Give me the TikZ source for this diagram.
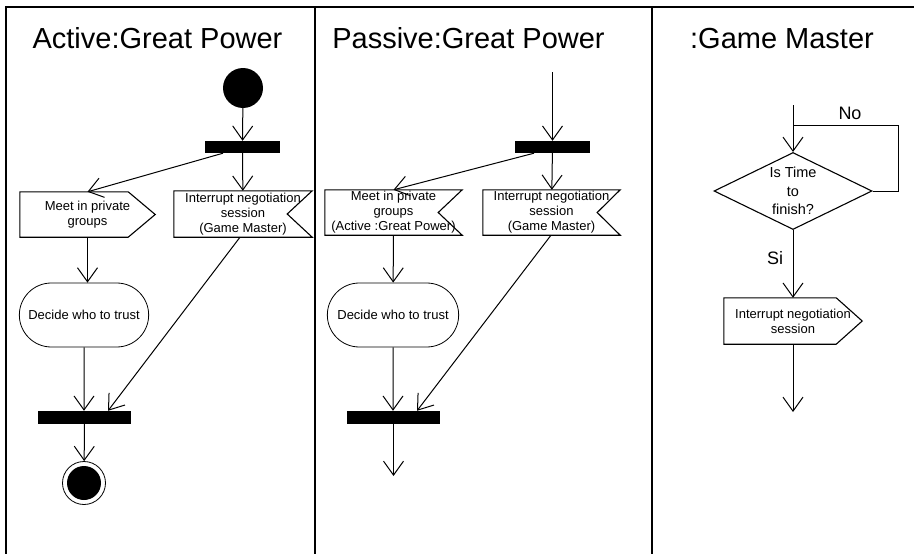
\documentclass[tikz,border=0pt]{standalone}
\usepackage{fontspec}
\setmainfont{Liberation Sans}
\usetikzlibrary{arrows.meta,shapes.geometric,shapes.misc}

\tikzset{lane/.style={line width=1.6pt},
    flow/.style={line width=1pt,-{Straight Barb[length=14pt,width=20pt]}},
    edge/.style={line width=1.1pt},
    bar/.style={fill=black,minimum width=75pt,minimum height=12pt,inner sep=0pt},
    joinbar/.style={bar,minimum width=93pt,minimum height=13pt},
    boxtext/.style={inner sep=0pt,align=center,font=\fontsize{13}{15}\selectfont},
    title/.style={anchor=base,font=\fontsize{29}{30}\selectfont},
    activity/.style={rounded rectangle,draw,line width=0.8pt,minimum width=136pt,minimum height=64pt,font=\fontsize{13}{15}\selectfont}}

\begin{document}
\begin{tikzpicture}[x=1pt,y=-1pt]
        \useasboundingbox (0,0) rectangle (914,554);
        % swimlanes
        \draw[lane] (6,554) -- (6,7) -- (914,7);
        \draw[lane] (315,7) -- (315,554);
        \draw[lane] (652,7) -- (652,554);
        \node[title] (t1) at (157.5,48) {Active:Great Power};
        \node[title] (t2) at (468.5,48) {Passive:Great Power};
        \node[title] (t3) at (782,48) {:Game Master};

        % active great power
        \node[circle,fill=black,minimum size=40pt,inner sep=0pt] (init1) at (243,88) {};
        \node[bar] (fork1) at (242.5,147) {};
        \node[boxtext,minimum width=135pt,minimum height=45pt] (meet1) at (87.5,214.5) {Meet in private\\groups};
        \draw[edge] (meet1.north west) -- ([xshift=-27pt]meet1.north east) -- (meet1.east) -- ([xshift=-27pt]meet1.south east) -- (meet1.south west) -- cycle;
        \node[boxtext,minimum width=138pt,minimum height=46pt] (int1) at (243,214) {Interrupt negotiation\\session\\(Game Master)};
        \draw[edge] (int1.north west) -- (int1.north east) -- ([xshift=-25pt]int1.east) -- (int1.south east) -- (int1.south west) -- cycle;
        \node[activity] (dec1) at (84,315) {Decide who to trust};
        \node[joinbar] (join1) at (84.5,417.5) {};
        \node[circle,draw,line width=0.8pt,minimum size=43pt,inner sep=0pt,
            path picture={\fill (path picture bounding box.center) circle (17pt);}] (fin1) at (84,483) {};
        \draw[flow] (init1) -- (fork1);
        \draw[flow] ([xshift=-19.5pt]fork1.south) -- (meet1.north);
        \draw[flow] (fork1) -- (int1);
        \draw[flow] (meet1.south) -- (meet1.south |- dec1.north);
        \draw[flow] (dec1) -- (dec1 |- join1.north);
        \draw[flow] ([xshift=-3pt]int1.south) -- ([xshift=23.5pt]join1.north);
        \draw[flow] (join1) -- (fin1);

        % passive great power
        \coordinate (start2) at (552.5,72);
        \node[bar] (fork2) at (552.5,147) {};
        \node[boxtext,minimum width=137pt,minimum height=45pt] (meet2) at (393.5,212.5) {Meet in private\\groups\\(Active :Great Power)};
        \draw[edge] (meet2.north west) -- (meet2.north east) -- ([xshift=-24pt]meet2.east) -- (meet2.south east) -- (meet2.south west) -- cycle;
        \node[boxtext,minimum width=137pt,minimum height=45pt] (int2) at (551.5,212.5) {Interrupt negotiation\\session\\(Game Master)};
        \draw[edge] (int2.north west) -- (int2.north east) -- ([xshift=-23pt]int2.east) -- (int2.south east) -- (int2.south west) -- cycle;
        \node[activity,minimum width=138pt] (dec2) at (393,315) {Decide who to trust};
        \node[joinbar] (join2) at (393.5,417.5) {};
        \coordinate (end2) at (393.5,476);
        \draw[flow] (start2) -- (fork2);
        \draw[flow] ([xshift=-18.5pt]fork2.south) -- (meet2.north);
        \draw[flow] (fork2) -- (int2);
        \draw[flow] (meet2) -- (dec2);
        \draw[flow] (dec2) -- (dec2 |- join2.north);
        \draw[flow] ([xshift=-0.5pt]int2.south) -- ([xshift=23.5pt]join2.north);
        \draw[flow] (join2) -- (end2);

        % game master
        \coordinate (start3) at (793,105);
        \coordinate (loop3) at (793,125);
        \node[diamond,draw,line width=1.1pt,aspect=2,minimum width=158pt,minimum height=77pt,inner sep=0pt,
            align=center,font=\fontsize{14.5}{18.5}\selectfont] (time) at (793,191) {Is Time\\to\\finish?};
        \node[boxtext,minimum width=138pt,minimum height=46pt] (int3) at (793,321) {Interrupt negotiation\\session};
        \draw[edge] (int3.north west) -- ([xshift=-26pt]int3.north east) -- (int3.east) -- ([xshift=-26pt]int3.south east) -- (int3.south west) -- cycle;
        \coordinate (end3) at (793,412);
        \draw[flow] (start3) -- (time);
        \draw[line width=1pt] (time.east) -- ++(26,0) |- (loop3);
        \node[font=\fontsize{18}{20}\selectfont] (no) at (850,113.5) {No};
        \draw[flow] (time) -- (int3);
        \node[font=\fontsize{18}{20}\selectfont] (si) at (775,258) {Si};
        \draw[flow] (int3) -- (end3);
    \end{tikzpicture}
\end{document}
